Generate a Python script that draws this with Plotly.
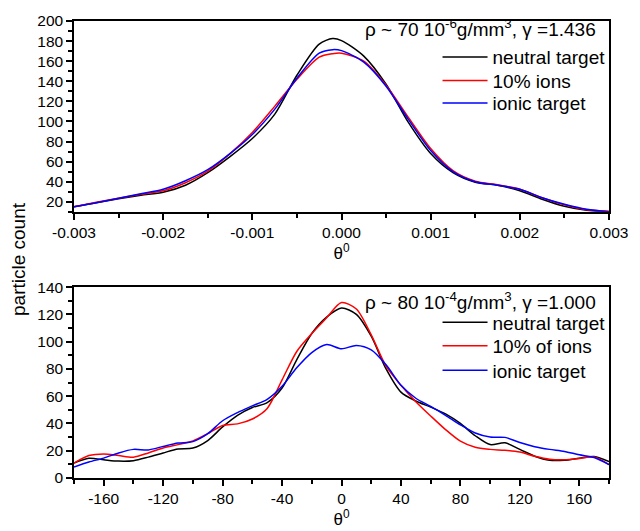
import plotly.graph_objects as go

# upper panel: theta in degrees (small range)
theta_top = [-0.003, -0.00275, -0.0025, -0.00225, -0.002, -0.00175, -0.0015, -0.00125,
             -0.001, -0.00075, -0.0005, -0.00025, -0.0001, 0.0, 0.00025, 0.0005, 0.00075,
             0.001, 0.00125, 0.0015, 0.00175, 0.002, 0.00225, 0.0025, 0.00275, 0.003]
neutral_top = [15, 19, 23, 26.5, 29.5, 36.5, 49, 65, 83, 107, 146, 177, 182.5, 180.5, 165,
               137, 99, 68, 49, 39.5, 36.5, 31, 22.5, 15.5, 11.5, 10]
ions10_top = [15, 19.5, 23.5, 27.5, 31, 39, 50.5, 68, 89, 115, 142, 164, 167.5, 168, 160,
              136, 104, 73, 51, 40.5, 37, 32.5, 24, 17, 12, 10.5]
ionic_top = [15, 19, 23.5, 28, 32.5, 41, 52, 68, 87, 112, 143, 168, 171.5, 170.5, 159,
             135, 102, 71, 50, 40, 36.5, 32.5, 24, 17.5, 12.5, 10]

# lower panel
theta_bot = list(range(-180, 181, 10))
neutral_bot = [11, 14.5, 13.4, 12.4, 12.7, 15.3, 18.4, 21.3, 22, 27.5, 37.5, 46, 51.7,
               55.3, 66, 87, 106, 118, 124.7, 120, 104, 80, 63, 56.5, 52, 47, 40, 31,
               24.5, 25.8, 21, 16, 13, 13, 14.5, 15.8, 12]
ions10_bot = [11, 16.5, 17.7, 16.5, 15.3, 18.4, 22, 24.5, 27.2, 32.5, 38.5, 39.7, 43.3,
              51, 72, 93, 106, 117.5, 128.7, 124, 105, 82, 68, 56, 45.5, 35.5, 27,
              22.5, 21, 20.3, 19, 16, 13.8, 13.4, 14.3, 15.5, 9.8]
ionic_bot = [8, 11.7, 14.6, 18.4, 21, 20.6, 23.2, 25.6, 26.7, 32.5, 42, 48, 52.9, 57.7,
             67.3, 81, 92, 97.9, 94.8, 97.2, 94, 83, 68, 58.5, 52.5, 46, 39, 33, 30,
             29.8, 26, 23, 21, 19.5, 17, 15, 9.8]

xt_top_vals = [-0.003, -0.002, -0.001, 0.0, 0.001, 0.002, 0.003]
xt_top_text = ["-0.003", "-0.002", "-0.001", "0.000", "0.001", "0.002", "0.003"]
xt_bot_vals = [-160, -120, -80, -40, 0, 40, 80, 120, 160]
xt_bot_text = ["-160", "-120", "-80", "-40", "0", "40", "80", "120", "160"]

FONT = "Arial, Liberation Sans, sans-serif"

# one legend box per entry so the rows can sit where the original has them
top_legend_y = [0.9208, 0.8694, 0.8201]
bot_legend_y = [0.3405, 0.2891, 0.2355]

fig = go.Figure()

top_series = [("neutral target", neutral_top, "black"),
              ("10% ions", ions10_top, "red"),
              ("ionic target", ionic_top, "blue")]
for i, (name, ys, col) in enumerate(top_series):
    fig.add_trace(go.Scatter(x=theta_top, y=ys, mode="lines", name=name, showlegend=True,
                             line=dict(color=col, width=1.5, shape="spline", smoothing=0.8),
                             xaxis="x", yaxis="y", legend=f"legend{i + 1 if i else ''}"))

bot_series = [("neutral target", neutral_bot, "black"),
              ("10% of ions", ions10_bot, "red"),
              ("ionic target", ionic_bot, "blue")]
for i, (name, ys, col) in enumerate(bot_series):
    fig.add_trace(go.Scatter(x=theta_bot, y=ys, mode="lines", name=name, showlegend=True,
                             line=dict(color=col, width=1.5, shape="spline", smoothing=0.8),
                             xaxis="x2", yaxis="y2", legend=f"legend{i + 4}"))

axis_common = dict(showline=True, linecolor="black", linewidth=1.5, mirror=True,
                   ticks="outside", ticklen=6, tickwidth=1.5, tickcolor="black",
                   showgrid=False, zeroline=False,
                   tickfont=dict(family=FONT, size=15.5, color="black"))

legend_style = dict(x=0.6795, xanchor="left", yanchor="middle", bgcolor="rgba(0,0,0,0)",
                    font=dict(size=19), itemwidth=45, visible=True)
legends = {}
for i, yy in enumerate(top_legend_y + bot_legend_y):
    key = "legend" if i == 0 else f"legend{i + 1}"
    legends[key] = dict(legend_style, y=yy)

fig.update_layout(
    width=640, height=531,
    margin=dict(l=74, r=20, t=15, b=49),
    paper_bgcolor="white", plot_bgcolor="white",
    showlegend=True,
    font=dict(family=FONT, color="black"),
    xaxis=dict(axis_common, domain=[0, 1], anchor="y", range=[-0.003, 0.003],
               tickvals=xt_top_vals, ticktext=xt_top_text,
               minor=dict(dtick=0.0005, tick0=0, ticklen=4, ticks="outside", tickcolor="black"),
               title=dict(text="θ<sup>0</sup>", font=dict(size=17), standoff=2)),
    yaxis=dict(axis_common, domain=[0.5824, 1], anchor="x", range=[10, 200],
               dtick=20, tick0=0,
               minor=dict(dtick=10, tick0=0, ticklen=4, ticks="outside", tickcolor="black")),
    xaxis2=dict(axis_common, domain=[0, 1], anchor="y2", range=[-180, 180],
                tickvals=xt_bot_vals, ticktext=xt_bot_text,
                minor=dict(dtick=20, tick0=0, ticklen=4, ticks="outside", tickcolor="black"),
                title=dict(text="θ<sup>0</sup>", font=dict(size=17), standoff=0)),
    yaxis2=dict(axis_common, domain=[0, 0.4176], anchor="x2", range=[0, 140],
                dtick=20, tick0=0,
                minor=dict(dtick=10, tick0=0, ticklen=4, ticks="outside", tickcolor="black")),
    annotations=[
        dict(text="ρ ~ 70 10<sup>-6</sup>g/mm<sup>3</sup>, γ =1.436", xref="paper", yref="paper",
             x=0.98, y=0.985, xanchor="right", yanchor="middle", showarrow=False,
             font=dict(size=19)),
        dict(text="ρ ~ 80 10<sup>-4</sup>g/mm<sup>3</sup>, γ =1.000", xref="paper", yref="paper",
             x=0.98, y=0.388, xanchor="right", yanchor="middle", showarrow=False,
             font=dict(size=19)),
        dict(text="particle count", xref="paper", yref="paper", x=-0.104, y=0.48,
             xanchor="center", yanchor="middle", textangle=-90, showarrow=False,
             font=dict(size=19)),
    ],
    **legends,
)

page_fix = ("document.documentElement.style.margin='0';"
            "document.body.style.margin='0';"
            "document.documentElement.style.overflow='hidden';"
            "document.body.style.overflow='hidden';")
fig.write_html("out.html", post_script=page_fix, config={"displayModeBar": False})
